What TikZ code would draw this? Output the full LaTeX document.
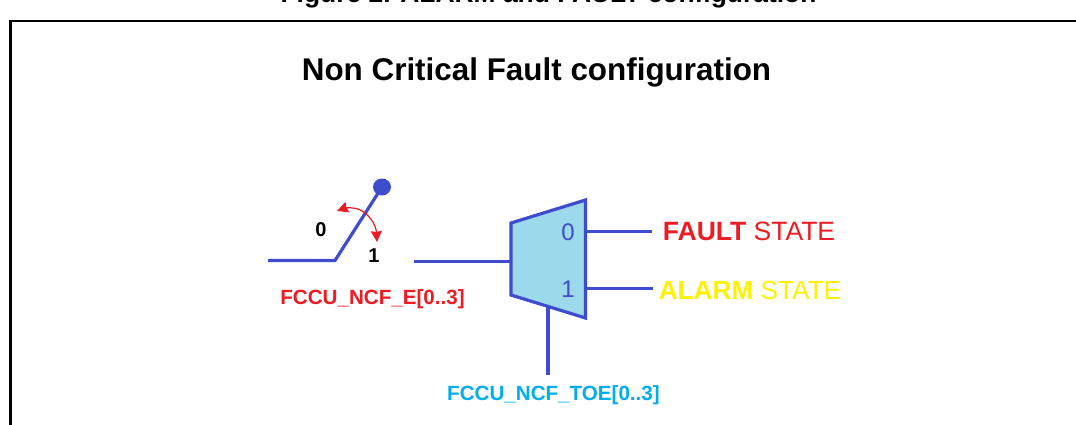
\documentclass[tikz,border=0pt]{standalone}
\usepackage{fontspec}
\setmainfont{Liberation Sans}
\usetikzlibrary{arrows.meta,shapes.geometric}
\definecolor{wire}{RGB}{62,76,205}
\definecolor{muxfill}{RGB}{155,217,235}
\definecolor{fred}{RGB}{237,28,36}
\definecolor{fyellow}{RGB}{255,242,0}
\definecolor{fblue}{RGB}{0,174,239}
\tikzset{
  wireline/.style={draw=wire,line width=3.2pt},
  lbl/.style={inner sep=0pt,anchor=base},
  smallbold/.style={lbl,font=\fontsize{20.6}{22}\selectfont\bfseries},
}
\begin{document}
\begin{tikzpicture}[x=1pt,y=-1pt]
\useasboundingbox (0,0) rectangle (1076,425);
\clip (0,0) rectangle (1076,425);
\fill[white] (0,0) rectangle (1076,425);
\node[lbl,font=\fontsize{26.4}{28}\selectfont\bfseries] (caption) at (548.5,3) {Figure 2. ALARM and FAULT configuration};
\draw[black,line width=2.2pt] (10.5,430) -- (10.5,21) -- (1080,21);
\node[lbl,font=\fontsize{31.4}{33}\selectfont\bfseries] (title) at (536.5,81) {Non Critical Fault configuration};
% switch
\coordinate (swa) at (268,260.5);
\coordinate (swb) at (335,260.5);
\node[ellipse,fill=wire,minimum width=18pt,minimum height=17pt,inner sep=0pt] (dot) at (382,187) {};
\draw[wireline] (swa) -- (swb) -- (dot.center);
\coordinate (arca) at (337,211);
\coordinate (arcb) at (377,242);
\draw[fred,line width=1.2pt,-{Stealth[length=11pt,width=11pt,inset=1pt]}] (358,209) .. controls (350,207) and (345,208) .. (arca);
\draw[fred,line width=1.2pt,-{Stealth[length=11pt,width=11pt,inset=1pt]}] (358,209) .. controls (369,213) and (376,225) .. (arcb);
\node[lbl,font=\fontsize{20}{22}\selectfont\bfseries] (zero) at (321,236) {0};
\node[lbl,font=\fontsize{20}{22}\selectfont\bfseries] (one) at (374,262) {1};
\node[smallbold,text=fred] (ncfe) at (372.5,304) {FCCU\_NCF\_E[0..3]};
% mux
\draw[wireline,fill=muxfill,line join=miter] (511,223) -- (585.5,200) -- (585.5,318) -- (511,295) -- cycle;
\coordinate (muxin) at (511,261.5);
\coordinate (muxsel) at (548,307);
\coordinate (swout) at (414,261.5);
\coordinate (selend) at (548,375);
\coordinate (m0) at (586,231.5);
\coordinate (m1) at (586,288.5);
\coordinate (m0e) at (652,231.5);
\coordinate (m1e) at (653,288.5);
\draw[wireline] (swout) -- (muxin);
\draw[wireline] (muxsel) -- (selend);
\draw[wireline] (m0) -- (m0e);
\draw[wireline] (m1) -- (m1e);
\node[lbl,font=\fontsize{24}{26}\selectfont,text=wire] (p0) at (568,240) {0};
\node[lbl,font=\fontsize{24}{26}\selectfont,text=wire] (p1) at (568,297) {1};
\node[lbl,font=\fontsize{26.5}{28}\selectfont,text=fred] (fault) at (749,240) {\textbf{FAULT} STATE};
\node[lbl,font=\fontsize{26.2}{28}\selectfont,text=fyellow] (alarm) at (750,299) {\textbf{ALARM} STATE};
\node[smallbold,text=fblue] (toe) at (553.5,400) {FCCU\_NCF\_TOE[0..3]};
\end{tikzpicture}
\end{document}
